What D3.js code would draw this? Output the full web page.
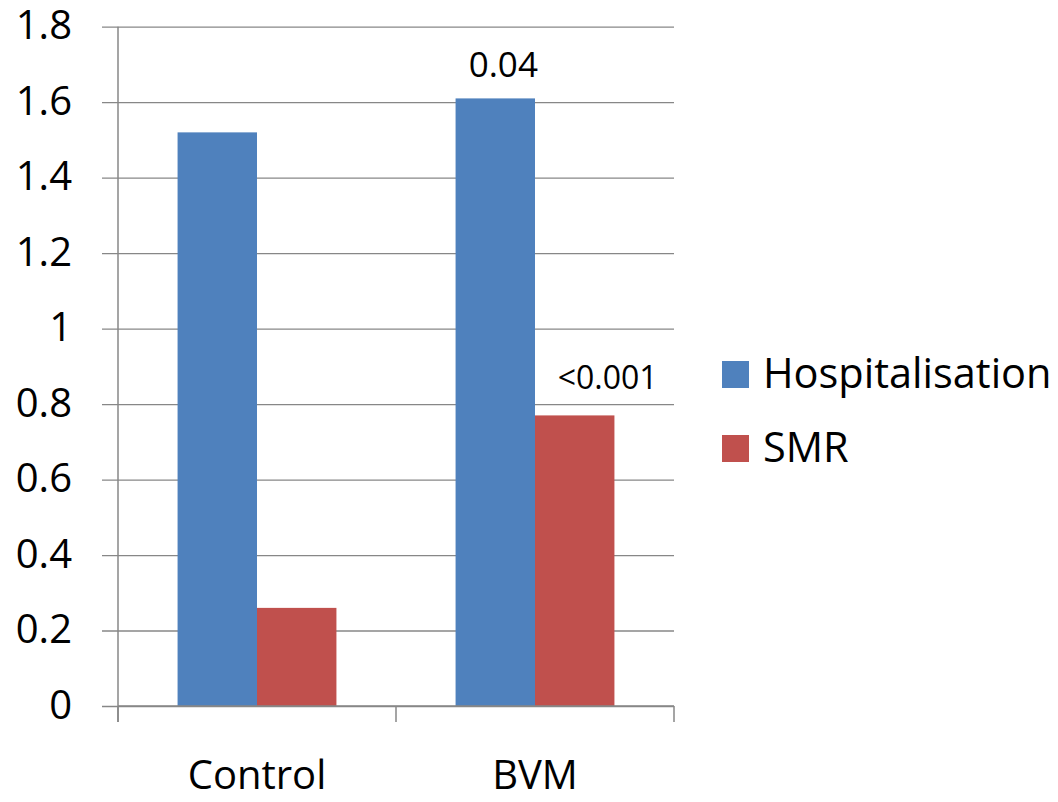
<!DOCTYPE html>
<html>
<head>
<meta charset="utf-8">
<script src="https://cdn.jsdelivr.net/npm/d3@7"></script>
<style>
  html, body { margin: 0; padding: 0; background: #fff; }
  svg { display: block; font-family: "Open Sans", "Liberation Sans", sans-serif; }
</style>
</head>
<body>
<svg id="chart" width="1058" height="802"></svg>
<script>
// Chart data
const categories = ["Control", "BVM"];
const seriesNames = ["Hospitalisation", "SMR"];
const hospitalisation = [1.52, 1.61];
const smr = [0.26, 0.77];
const yTicks = [0, 0.2, 0.4, 0.6, 0.8, 1, 1.2, 1.4, 1.6, 1.8];
// p-value annotations: category, series, text
const pCategory = ["BVM", "BVM"];
const pSeries = ["Hospitalisation", "SMR"];
const pText = ["0.04", "<0.001"];

const colors = { "Hospitalisation": "#4F81BD", "SMR": "#C0504D" };
const seriesValues = { "Hospitalisation": hospitalisation, "SMR": smr };

const rows = categories.map((c, i) => ({
  category: c,
  values: seriesNames.map(s => ({ series: s, value: seriesValues[s][i] }))
}));

const svg = d3.select("#chart");
const plot = { left: 118, right: 674, top: 26.7, bottom: 706 };

const x0 = d3.scaleBand().domain(categories).range([plot.left, plot.right]).padding(0);
const x1 = d3.scaleBand().domain(seriesNames).range([0, x0.bandwidth()])
  .paddingInner(0).paddingOuter(0.75);
const y = d3.scaleLinear().domain([0, 1.8]).range([plot.bottom, plot.top]);

const gridColor = "#878787";

// Y axis with horizontal gridlines
const yAxis = svg.append("g")
  .attr("transform", `translate(${plot.left},0)`)
  .call(d3.axisLeft(y).tickValues(yTicks)
    .tickFormat(d3.format("~g"))
    .tickSize(-(plot.right - plot.left))
    .tickSizeOuter(0)
    .tickPadding(46));
yAxis.select(".domain").remove();
yAxis.selectAll(".tick line")
  .attr("x1", -16)
  .attr("stroke", gridColor)
  .attr("stroke-width", 1.3);
yAxis.selectAll(".tick text")
  .attr("fill", "#000")
  .attr("font-size", 40)
  .attr("font-family", "'Open Sans', sans-serif")
  .attr("dy", "0.30em");

// Vertical axis line
svg.append("line")
  .attr("x1", plot.left).attr("x2", plot.left)
  .attr("y1", plot.top).attr("y2", plot.bottom + 16)
  .attr("stroke", gridColor).attr("stroke-width", 1.5);

// Bars
const groups = svg.append("g").selectAll("g")
  .data(rows).join("g")
  .attr("transform", d => `translate(${x0(d.category)},0)`);

groups.selectAll("rect")
  .data(d => d.values).join("rect")
  .attr("x", d => x1(d.series))
  .attr("width", x1.bandwidth())
  .attr("y", d => y(d.value))
  .attr("height", d => y(0) - y(d.value))
  .attr("fill", d => colors[d.series]);

// X axis with category boundary ticks
const xAxis = svg.append("g")
  .attr("transform", `translate(0,${plot.bottom})`)
  .call(d3.axisBottom(x0).tickSize(0).tickPadding(55));
xAxis.select(".domain")
  .attr("d", `M${plot.left},0H${plot.right}`)
  .attr("stroke", gridColor).attr("stroke-width", 1.5);
xAxis.selectAll(".tick text")
  .attr("fill", "#000")
  .attr("font-size", 40)
  .attr("font-family", "'Open Sans', sans-serif");
const boundaries = categories.map(c => x0(c)).concat([x0(categories[categories.length - 1]) + x0.bandwidth()]);
svg.append("g").selectAll("line")
  .data(boundaries).join("line")
  .attr("x1", d => d).attr("x2", d => d)
  .attr("y1", plot.bottom).attr("y2", plot.bottom + 16)
  .attr("stroke", gridColor).attr("stroke-width", 1.5);

// p-value labels above bars
const pLabels = pText.map((t, i) => {
  const ci = categories.indexOf(pCategory[i]);
  const s = pSeries[i];
  return { text: t, series: s, category: pCategory[i], value: seriesValues[s][ci] };
});
const labelStyle = {
  "Hospitalisation": { size: 35, dx: 8, dy: -21 },
  "SMR": { size: 32, dx: 33, dy: -26 }
};
svg.append("g").selectAll("text")
  .data(pLabels).join("text")
  .attr("x", d => x0(d.category) + x1(d.series) + x1.bandwidth() / 2 + labelStyle[d.series].dx)
  .attr("y", d => y(d.value) + labelStyle[d.series].dy)
  .attr("text-anchor", "middle")
  .attr("font-size", d => labelStyle[d.series].size)
  .attr("fill", "#000")
  .text(d => d.text);

// Legend
const legend = svg.append("g").attr("transform", "translate(722,361)");
const items = legend.selectAll("g")
  .data(seriesNames).join("g")
  .attr("transform", (d, i) => `translate(0,${i * 74})`);
items.append("rect")
  .attr("width", 27).attr("height", 27)
  .attr("fill", d => colors[d]);
items.append("text")
  .attr("x", 41).attr("y", 27)
  .attr("font-size", 41.5)
  .attr("fill", "#000")
  .text(d => d);
</script>
</body>
</html>
